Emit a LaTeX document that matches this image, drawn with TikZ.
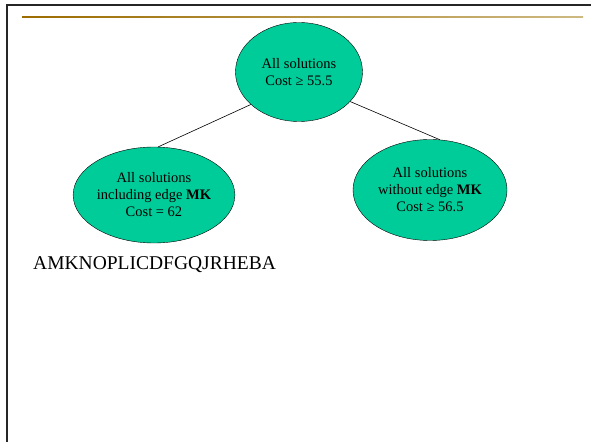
\documentclass[tikz,border=0pt]{standalone}
\usepackage{fontspec}
\setmainfont{Liberation Serif}
\usetikzlibrary{shapes.geometric}
\definecolor{sealeaf}{RGB}{0,204,153}
\definecolor{rulegold}{RGB}{156,108,0}
\definecolor{rulesand}{RGB}{205,185,130}
\tikzset{
  subset/.style={ellipse, draw=black, fill=sealeaf, inner sep=0pt,
    align=center, font=\fontsize{14.5}{17}\selectfont},
}
\begin{document}
\begin{tikzpicture}[x=1pt,y=1pt]
\useasboundingbox (0,0) rectangle (591,442);
% slide frame
\draw [line width=2.4pt, black!85] (7,0)--(7,437)--(591,437);
\shade [left color=rulegold, right color=rulesand] (22,424.2) rectangle (583,425.8);
% search tree
\node [subset, minimum width=127, minimum height=99] (all) at (299,370) {All solutions\\Cost ≥ 55.5};
\node [subset, minimum width=158, minimum height=96] (with) at (154,247) {All solutions\\including edge \textbf{MK}\\Cost = 62};
\node [subset, minimum width=154, minimum height=101] (without) at (430,252) {All solutions\\without edge \textbf{MK}\\Cost ≥ 56.5};
\draw [line width=0.6pt] (all.214)--(with.85);
\draw [line width=0.6pt] (all.330)--(without.79);
\node [anchor=west, font=\fontsize{19.5}{23}\selectfont, inner sep=0pt] (tour) at (33,177) {AMKNOPLICDFGQJRHEBA};
\end{tikzpicture}
\end{document}
